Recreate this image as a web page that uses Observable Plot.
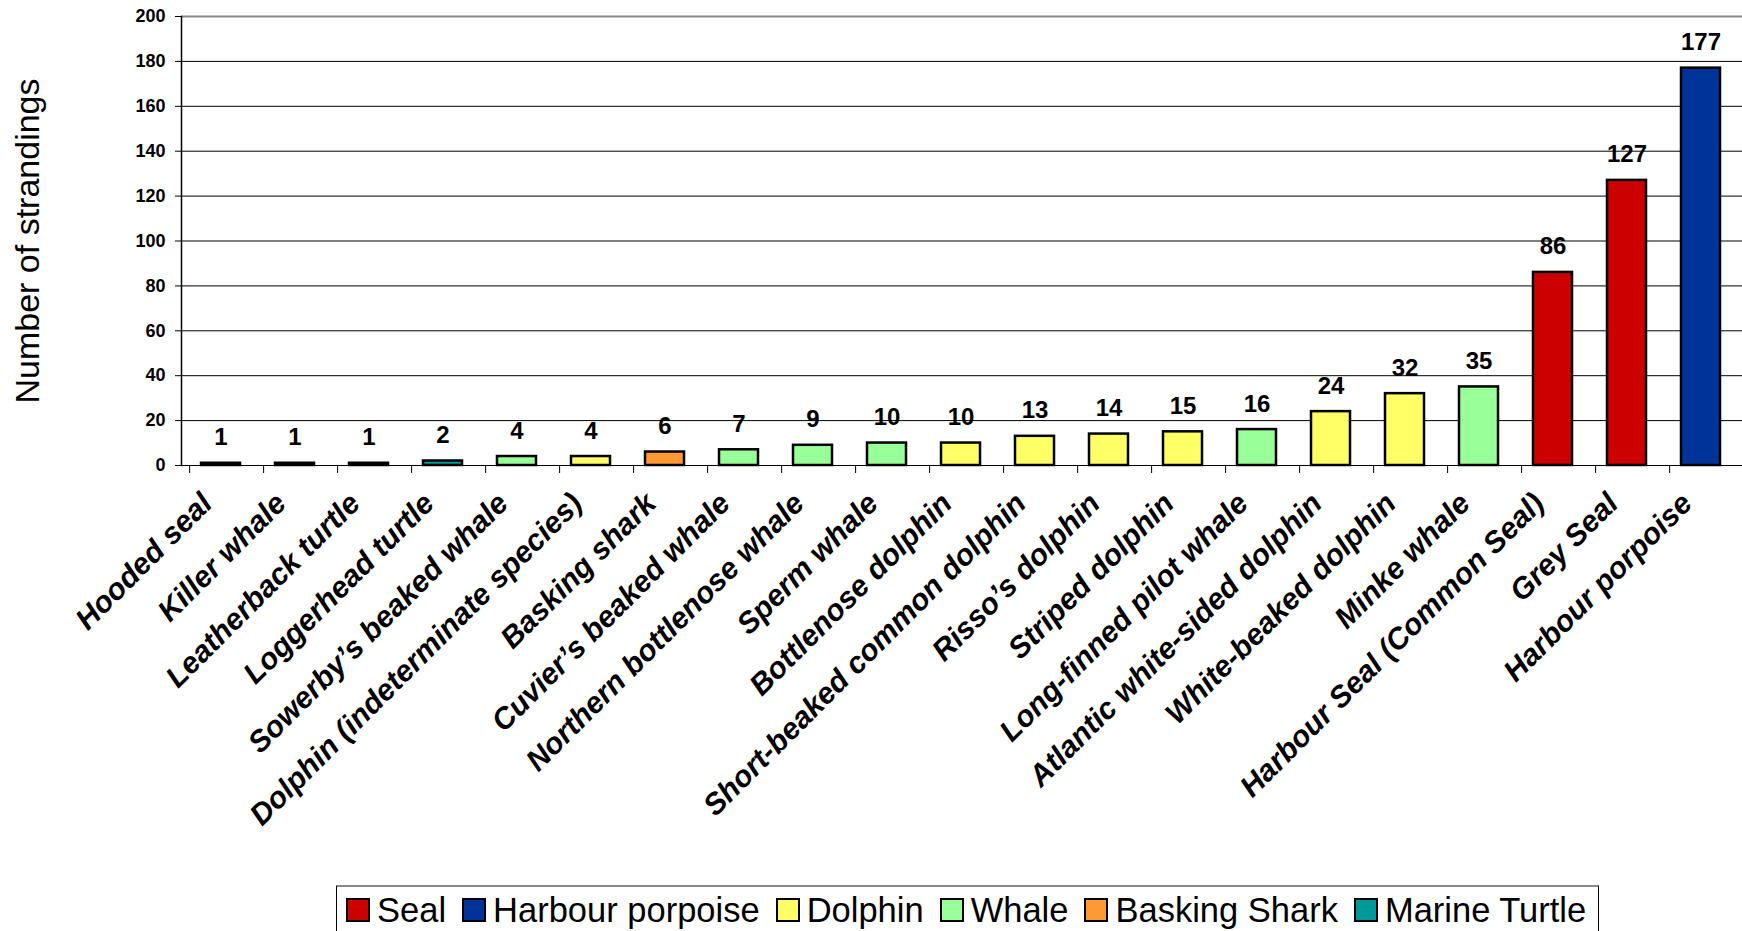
<!DOCTYPE html>
<html>
<head>
<meta charset="utf-8">
<script src="https://cdn.jsdelivr.net/npm/d3@7"></script>
<script src="https://cdn.jsdelivr.net/npm/@observablehq/plot@0.6"></script>
<style>
  html, body { margin: 0; padding: 0; background: #fff; overflow: hidden; }
  #chart { position: absolute; left: 0; top: 0; }
  #legend {
    position: absolute; left: 336px; top: 885px;
    display: flex; align-items: center;
    border: 1px solid #000; border-top: 2px solid #888;
    padding: 6px 12px 20px 9px;
    font-family: "Liberation Sans", Arial, sans-serif; font-size: 34.5px; line-height: 34px;
    color: #000; white-space: nowrap;
  }
  #legend .item { display: flex; align-items: center; margin-right: 16px; }
  #legend .item:last-child { margin-right: 0; }
  #legend .sw { width: 20px; height: 20px; border: 2px solid #000; margin-right: 7px; }
</style>
</head>
<body>
<div id="chart"></div>
<div id="legend"></div>
<script>
// Strandings by species, ordered by count
const species = [
  "Hooded seal", "Killer whale", "Leatherback turtle", "Loggerhead turtle",
  "Sowerby’s beaked whale", "Dolphin (indeterminate species)", "Basking shark",
  "Cuvier’s beaked whale", "Northern bottlenose whale", "Sperm whale",
  "Bottlenose dolphin", "Short-beaked common dolphin", "Risso’s dolphin",
  "Striped dolphin", "Long-finned pilot whale", "Atlantic white-sided dolphin",
  "White-beaked dolphin", "Minke whale", "Harbour Seal (Common Seal)",
  "Grey Seal", "Harbour porpoise"
];
const counts = [1, 1, 1, 2, 4, 4, 6, 7, 9, 10, 10, 13, 14, 15, 16, 24, 32, 35, 86, 127, 177];
const groups = [
  "Seal", "Whale", "Marine Turtle", "Marine Turtle", "Whale", "Dolphin", "Basking Shark",
  "Whale", "Whale", "Whale", "Dolphin", "Dolphin", "Dolphin", "Dolphin", "Whale",
  "Dolphin", "Dolphin", "Whale", "Seal", "Seal", "Harbour porpoise"
];

// Legend groups and their fills
const groupNames = ["Seal", "Harbour porpoise", "Dolphin", "Whale", "Basking Shark", "Marine Turtle"];
const groupColors = ["#CC0000", "#003399", "#FFFF66", "#99FF99", "#FF9933", "#009999"];

const yTicks = [0, 20, 40, 60, 80, 100, 120, 140, 160, 180, 200];
const yTitle = "Number of strandings";

const rows = species.map((s, i) => ({species: s, count: counts[i], group: groups[i]}));
const yMax = yTicks[yTicks.length - 1];

const chart = Plot.plot({
  width: 1742,
  height: 880,
  marginLeft: 181,
  marginRight: 0,
  marginTop: 16,
  marginBottom: 415,
  style: {fontFamily: "'Liberation Sans', Arial, sans-serif", background: "#fff", color: "#000", overflow: "hidden"},
  x: {domain: species, range: [181, 1752], paddingInner: 0.47, paddingOuter: 0.235},
  y: {domain: [0, yMax]},
  color: {domain: groupNames, range: groupColors},
  marks: [
    // horizontal gridlines
    Plot.ruleY(yTicks.filter((t) => t < yMax), {stroke: "#000", strokeWidth: 1}),
    Plot.ruleY([yMax], {stroke: "#888", strokeWidth: 2}),
    // vertical axis line
    Plot.frame({anchor: "left", stroke: "#000", strokeWidth: 1.5}),
    Plot.axisY({ticks: yTicks, tickSize: 6, tickPadding: 10, fontSize: 18, fontWeight: "bold", label: null}),
    // category separators below the baseline
    Plot.axisX({tickSize: 8, tickFormat: () => "", label: null, dx: -37.4}),
    // rotated category labels
    Plot.axisX({tickSize: 0, tickPadding: 33, tickRotate: -45, fontSize: 30, fontWeight: "bold",
      fontStyle: "italic", label: null, dx: -20}),
    Plot.barY(rows, {x: "species", y: "count", fill: "group", stroke: "#000", strokeWidth: 2.5, dx: -6}),
    Plot.text(rows, {x: "species", y: "count", text: (d) => String(d.count), dy: -18, dx: -6,
      lineAnchor: "bottom", fontSize: 24, fontWeight: "bold", fill: "#000"}),
    Plot.text([yTitle], {frameAnchor: "left", textAnchor: "middle", rotate: -90, dx: -153,
      fontSize: 34, fill: "#000"})
  ]
});
document.getElementById("chart").appendChild(chart);

// legend
const legend = document.getElementById("legend");
groupNames.forEach((name, i) => {
  const item = document.createElement("div");
  item.className = "item";
  const sw = document.createElement("span");
  sw.className = "sw";
  sw.style.background = groupColors[i];
  const tx = document.createElement("span");
  tx.textContent = name;
  item.appendChild(sw);
  item.appendChild(tx);
  legend.appendChild(item);
});
</script>
</body>
</html>
